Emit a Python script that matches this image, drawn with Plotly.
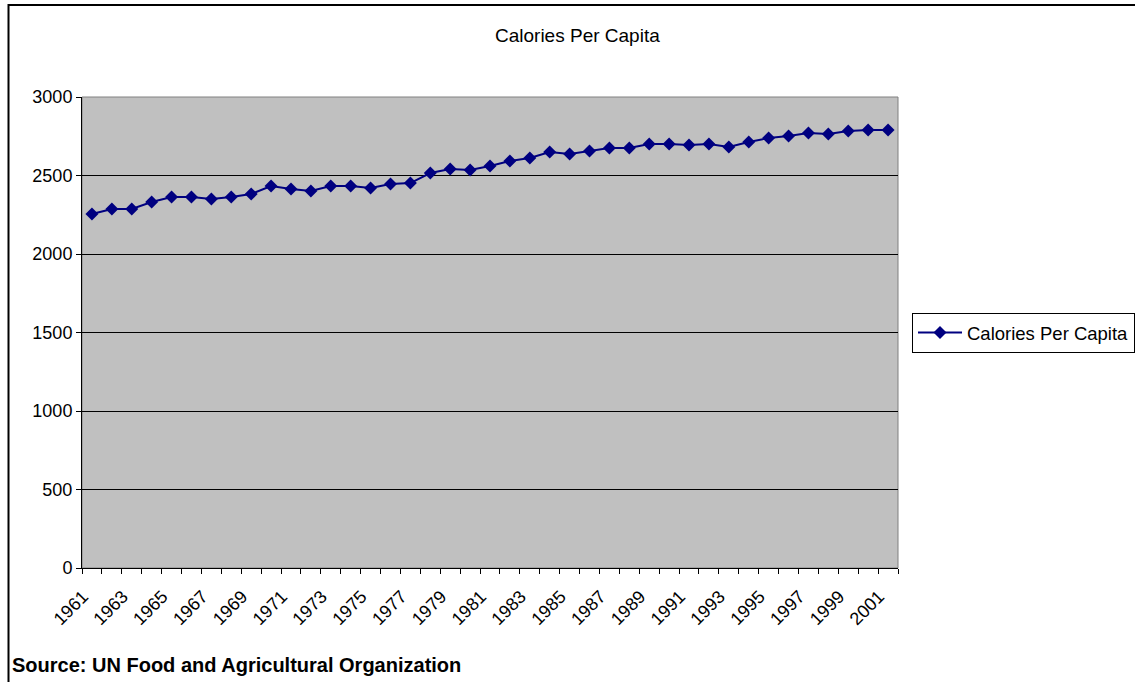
import plotly.graph_objects as go

# Dietary energy supply per person per day, 1961-2001
years = list(range(1961, 2002))
calories = [
    2255, 2287, 2287, 2331, 2363, 2363, 2350, 2363, 2382, 2433,
    2414, 2401, 2433, 2433, 2420, 2446, 2452, 2516, 2541, 2535,
    2561, 2592, 2611, 2650, 2637, 2656, 2675, 2675, 2701, 2701,
    2694, 2701, 2682, 2713, 2739, 2752, 2771, 2764, 2783, 2790,
    2790,
]
tick_years = list(range(1961, 2002, 2))
series_name = "Calories Per Capita"
source_text = "Source: UN Food and Agricultural Organization"

W, H = 1135, 682
L, R, T, B = 82, 898, 97, 568  # plot area edges in pixels
pw, ph = R - L, B - T


def px_x(x):
    return (x - L) / pw


def px_y(y):
    return (B - y) / ph


navy = "#000080"
fam = "Liberation Sans, Arial, sans-serif"
font = dict(family=fam, size=18, color="black")

fig = go.Figure()
fig.add_trace(go.Scatter(
    x=years, y=calories, name=series_name, mode="lines+markers",
    line=dict(color=navy, width=2),
    marker=dict(symbol="diamond", size=10, color=navy),
))

fig.update_layout(
    width=W, height=H,
    margin=dict(l=L, r=W - R, t=T, b=H - B, autoexpand=False),
    paper_bgcolor="white", plot_bgcolor="#C0C0C0",
    font=font,
    showlegend=True,
    legend=dict(
        x=px_x(912), y=px_y(333), xanchor="left", yanchor="middle",
        bordercolor="black", borderwidth=1, bgcolor="white",
        font=dict(family=fam, size=18.5, color="black"),
        itemwidth=44, tracegroupgap=0,
    ),
    xaxis=dict(
        range=[1960.5, 2001.5], tickmode="array", tickvals=tick_years,
        ticktext=[str(y) for y in tick_years], tickangle=-45,
        ticks="", showgrid=False, zeroline=False, automargin=False,
        showline=True, linecolor="black", linewidth=1,
        ticklabelshift=-9, ticklabelstandoff=10,
        minor=dict(tickmode="linear", tick0=1960.5, dtick=1, ticks="outside",
                   ticklen=5, tickcolor="black", showgrid=False),
        tickfont=dict(family=fam, size=18),
    ),
    yaxis=dict(
        range=[0, 3000], dtick=500, ticks="outside", ticklen=5,
        tickcolor="black", showgrid=True, gridcolor="black", gridwidth=1,
        zeroline=False, showline=True, linecolor="black", linewidth=1,
        automargin=False, tickfont=dict(family=fam, size=18),
    ),
    shapes=[
        # plot area outline
        dict(type="rect", xref="paper", yref="paper", x0=0, y0=0, x1=1, y1=1,
             line=dict(color="#808080", width=1), layer="below"),
        # chart frame
        dict(type="rect", xref="paper", yref="paper",
             x0=px_x(8.5), y0=px_y(H + 10), x1=px_x(W + 10), y1=px_y(5),
             line=dict(color="black", width=2)),
    ],
    annotations=[
        dict(text="Calories Per Capita", xref="paper", yref="paper",
             x=px_x(577), y=px_y(35), xanchor="center", yanchor="middle",
             showarrow=False, font=dict(family=fam, size=19)),
        dict(text="<b>" + source_text + "</b>", xref="paper", yref="paper",
             x=px_x(10), y=px_y(665), xanchor="left", yanchor="middle",
             showarrow=False, font=dict(family=fam, size=20)),
    ],
)

fig.write_html("out.html")
